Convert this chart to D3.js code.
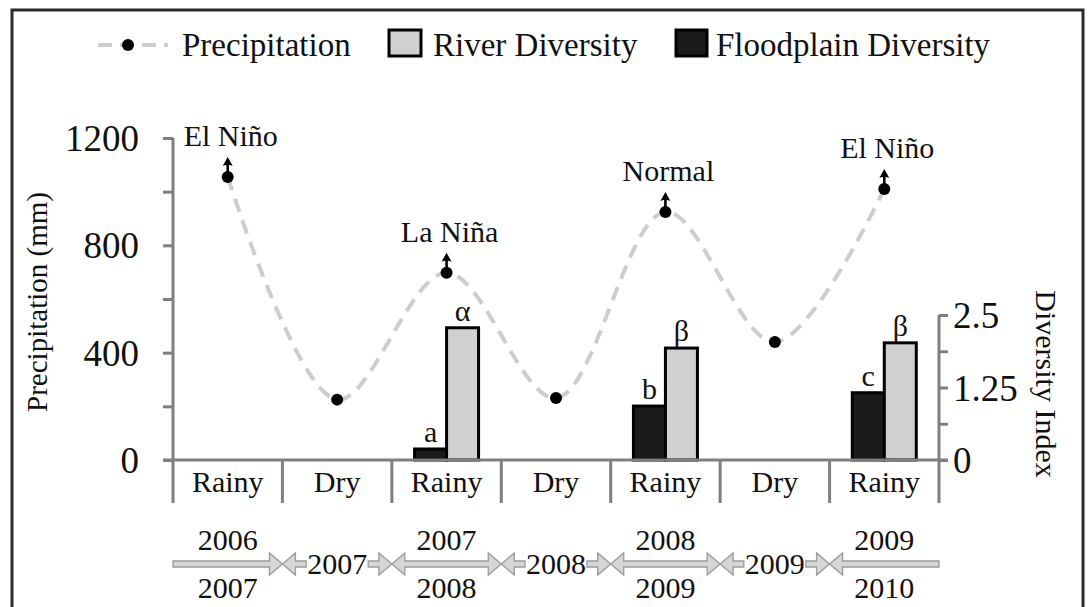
<!DOCTYPE html>
<html>
<head>
<meta charset="utf-8">
<script src="https://cdn.jsdelivr.net/npm/d3@7"></script>
<style>
  body { margin: 0; background: #fff; }
  svg text { font-family: "Liberation Serif", "Times New Roman", serif; fill: #111; }
</style>
</head>
<body>
<svg id="chart" width="1090" height="607"></svg>
<script>
// season categories along the x axis
const seasons = ["Rainy", "Dry", "Rainy", "Dry", "Rainy", "Dry", "Rainy"];
// precipitation (mm) per season
const precipitation = [1055, 225, 698, 231, 924, 440, 1010];
// ENSO phase labels over the rainy seasons
const ensoLabels = ["El Niño", "", "La Niña", "", "Normal", "", "El Niño"];
// diversity index (right axis)
const floodplainDiversity = [null, null, 0.19, null, 0.93, null, 1.16];
const riverDiversity = [null, null, 2.28, null, 1.93, null, 2.02];
const floodplainLetters = ["", "", "a", "", "b", "", "c"];
const riverLetters = ["", "", "α", "", "β", "", "β"];
// period labels under the axis
const periodTop = ["2006", "2007", "2007", "2008", "2008", "2009", "2009"];
const periodBottom = ["2007", "", "2008", "", "2009", "", "2010"];
// axis ticks
const leftTicks = [0, 200, 400, 600, 800, 1000, 1200];
const rightTicks = [0, 0.625, 1.25, 1.875, 2.5];

const svg = d3.select("#chart");
const axisGray = "#7f7f7f";

// outer frame
svg.append("rect")
   .attr("x", 12).attr("y", 10)
   .attr("width", 1071).attr("height", 620)
   .style("fill", "#fff")
   .style("stroke", "#2b2b2b")
   .style("stroke-width", 3);

const x = d3.scaleBand()
            .domain(d3.range(seasons.length))
            .range([173, 939])
            .paddingInner(0).paddingOuter(0);
const yLeft = d3.scaleLinear().domain([0, 1200]).range([460, 138]);
const yRight = d3.scaleLinear().domain([0, 2.5]).range([460, 315]);
const inner = d3.scaleBand().domain(["floodplain", "river"]).range([-32, 32]);
const cx = (i) => x(i) + x.bandwidth() / 2;

// category separators below the axis
svg.append("g")
   .selectAll("line")
   .data(d3.range(seasons.length + 1))
   .join("line")
   .attr("x1", (d) => d < seasons.length ? x(d) : x(d - 1) + x.bandwidth())
   .attr("x2", (d) => d < seasons.length ? x(d) : x(d - 1) + x.bandwidth())
   .attr("y1", 460).attr("y2", 503)
   .style("stroke", axisGray)
   .style("stroke-width", 3);

// season labels
svg.append("g")
   .selectAll("text")
   .data(seasons)
   .join("text")
   .attr("x", (d, i) => cx(i))
   .attr("y", 492)
   .attr("text-anchor", "middle")
   .style("font-size", "30px")
   .text((d) => d);

// bars
const barData = [];
seasons.forEach((s, i) => {
    if (floodplainDiversity[i] != null) {
        barData.push({ i: i, key: "floodplain", v: floodplainDiversity[i], letter: floodplainLetters[i] });
        barData.push({ i: i, key: "river", v: riverDiversity[i], letter: riverLetters[i] });
    }
});
svg.append("g")
   .selectAll("rect")
   .data(barData)
   .join("rect")
   .attr("x", (d) => cx(d.i) + inner(d.key))
   .attr("y", (d) => yRight(d.v))
   .attr("width", inner.bandwidth())
   .attr("height", (d) => yRight(0) - yRight(d.v))
   .style("fill", (d) => d.key == "river" ? "#d0d0d0" : "#1b1b1b")
   .style("stroke", "#000")
   .style("stroke-width", 3);
svg.append("g")
   .selectAll("text")
   .data(barData)
   .join("text")
   .attr("x", (d) => cx(d.i) + inner(d.key) + inner.bandwidth() / 2)
   .attr("y", (d) => yRight(d.v) - 7)
   .attr("text-anchor", "middle")
   .style("font-size", "30px")
   .text((d) => d.letter);

// left axis
const leftAxis = svg.append("g")
   .attr("transform", "translate(173,0)")
   .call(d3.axisLeft(yLeft)
           .tickValues(leftTicks)
           .tickFormat((d) => d % 400 == 0 ? d : "")
           .tickSize(10)
           .tickPadding(24));
// right axis
const rightAxis = svg.append("g")
   .attr("transform", "translate(939,0)")
   .call(d3.axisRight(yRight)
           .tickValues(rightTicks)
           .tickFormat((d) => (d == 0 || d == 1.25 || d == 2.5) ? d : "")
           .tickSize(9)
           .tickPadding(5));
for (const ax of [leftAxis, rightAxis]) {
    ax.select(".domain").remove();
    ax.selectAll(".tick line").style("stroke", axisGray).style("stroke-width", 3);
    ax.selectAll(".tick text").style("font-size", "37px").style("font-family", "Liberation Serif, serif").attr("fill", "#111").attr("dy", "0.34em");
}
// axis lines
svg.append("line").attr("x1", 173).attr("x2", 173).attr("y1", 138).attr("y2", 460)
   .style("stroke", axisGray).style("stroke-width", 3);
svg.append("line").attr("x1", 939).attr("x2", 939).attr("y1", 315).attr("y2", 460)
   .style("stroke", axisGray).style("stroke-width", 3);
svg.append("line").attr("x1", 163).attr("x2", 948).attr("y1", 460).attr("y2", 460)
   .style("stroke", axisGray).style("stroke-width", 3);

// axis titles
svg.append("text")
   .attr("transform", "translate(47,302) rotate(-90)")
   .attr("text-anchor", "middle")
   .style("font-size", "29px")
   .text("Precipitation (mm)");
svg.append("text")
   .attr("transform", "translate(1036,384) rotate(90)")
   .attr("text-anchor", "middle")
   .style("font-size", "30px")
   .text("Diversity Index");

// precipitation line
const line = d3.line()
               .x((d, i) => cx(i))
               .y((d) => yLeft(d))
               .curve(d3.curveCatmullRom.alpha(0.5));
svg.append("path")
   .datum(precipitation)
   .attr("d", line)
   .style("fill", "none")
   .style("stroke", "#cdcdcd")
   .style("stroke-width", 4)
   .style("stroke-dasharray", "14, 9");

// small arrows above the ENSO points
svg.append("g")
   .selectAll("path")
   .data(precipitation.map((v, i) => ({ i: i, v: v })).filter((d) => ensoLabels[d.i] != ""))
   .join("path")
   .attr("d", (d) => {
       const px = cx(d.i), py = yLeft(d.v);
       return "M" + (px - 1.3) + "," + (py - 4) + "V" + (py - 12) + "Q" + (px - 3) + "," + (py - 12) + " " + (px - 5) + "," + (py - 11) +
              "L" + px + "," + (py - 20) + "L" + (px + 5) + "," + (py - 11) + "Q" + (px + 3) + "," + (py - 12) + " " + (px + 1.3) + "," + (py - 12) +
              "V" + (py - 4) + "Z";
   })
   .style("fill", "#000");

svg.append("g")
   .selectAll("circle")
   .data(precipitation)
   .join("circle")
   .attr("cx", (d, i) => cx(i))
   .attr("cy", (d) => yLeft(d))
   .attr("r", 6)
   .style("fill", "#000");

svg.append("g")
   .selectAll("text")
   .data(ensoLabels)
   .join("text")
   .attr("x", (d, i) => cx(i) + 3)
   .attr("y", (d, i) => yLeft(precipitation[i]) - 31)
   .attr("text-anchor", "middle")
   .style("font-size", "30px")
   .text((d) => d);

// period arrows under the axis
function arrowPath(x0, x1, y, leftHead, rightHead) {
    const h = 3, H = 11, L = 13;
    const a = leftHead ? x0 + L : x0;
    const b = rightHead ? x1 - L : x1;
    let p = "M" + a + "," + (y - h) + "L" + b + "," + (y - h);
    if (rightHead) p += "L" + b + "," + (y - H) + "L" + x1 + "," + y + "L" + b + "," + (y + H) + "L" + b + "," + (y + h);
    else p += "L" + b + "," + (y + h);
    p += "L" + a + "," + (y + h);
    if (leftHead) p += "L" + a + "," + (y + H) + "L" + x0 + "," + y + "L" + a + "," + (y - H);
    return p + "Z";
}
const arrowY = 564;
const arrows = [];
seasons.forEach((s, i) => {
    const x0 = x(i), x1 = x(i) + x.bandwidth();
    if (periodBottom[i] != "") {
        arrows.push(arrowPath(x0, x1, arrowY, i > 0, i < seasons.length - 1));
    } else {
        arrows.push(arrowPath(x0, cx(i) - 31, arrowY, true, false));
        arrows.push(arrowPath(cx(i) + 31, x1, arrowY, false, true));
    }
});
svg.append("g")
   .selectAll("path")
   .data(arrows)
   .join("path")
   .attr("d", (d) => d)
   .style("fill", "#d6d6d6")
   .style("stroke", "#9a9a9a")
   .style("stroke-width", 1.3);

svg.append("g")
   .selectAll("text")
   .data(periodTop)
   .join("text")
   .attr("x", (d, i) => cx(i))
   .attr("y", (d, i) => periodBottom[i] != "" ? 550 : 574)
   .attr("text-anchor", "middle")
   .style("font-size", "30px")
   .text((d) => d);
svg.append("g")
   .selectAll("text")
   .data(periodBottom)
   .join("text")
   .attr("x", (d, i) => cx(i))
   .attr("y", 598)
   .attr("text-anchor", "middle")
   .style("font-size", "30px")
   .text((d) => d);

// legend
const legend = svg.append("g");
legend.append("line")
      .attr("x1", 98).attr("x2", 168).attr("y1", 45).attr("y2", 45)
      .style("stroke", "#cdcdcd").style("stroke-width", 4)
      .style("stroke-dasharray", "14, 8");
legend.append("circle").attr("cx", 128).attr("cy", 45).attr("r", 6).style("fill", "#000");
legend.append("text").attr("x", 182).attr("y", 56).style("font-size", "33px").text("Precipitation");
legend.append("rect").attr("x", 389).attr("y", 30).attr("width", 32).attr("height", 26)
      .style("fill", "#d0d0d0").style("stroke", "#000").style("stroke-width", 3);
legend.append("text").attr("x", 433).attr("y", 56).style("font-size", "33px").text("River Diversity");
legend.append("rect").attr("x", 676).attr("y", 30).attr("width", 31).attr("height", 26)
      .style("fill", "#1b1b1b").style("stroke", "#000").style("stroke-width", 3);
legend.append("text").attr("x", 716).attr("y", 56).style("font-size", "33px").text("Floodplain Diversity");
</script>
</body>
</html>
